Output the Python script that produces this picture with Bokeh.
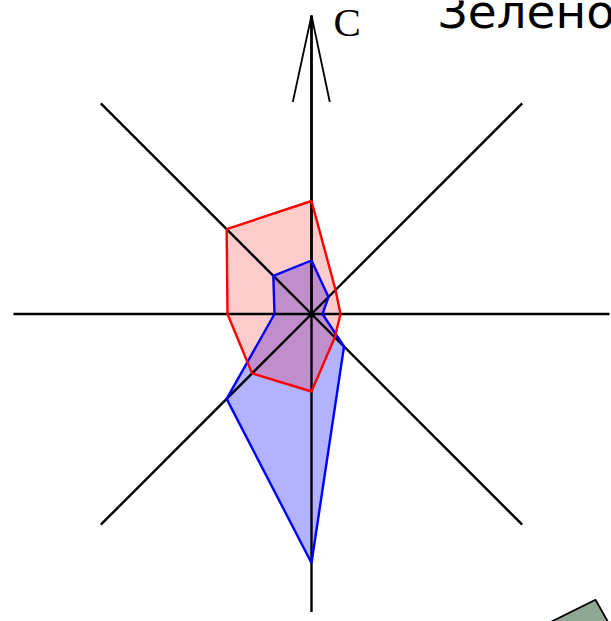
import numpy as np
from bokeh.plotting import figure
from bokeh.models import Range1d
from bokeh.core.properties import value
from bokeh.embed import file_html
from bokeh.resources import INLINE

# Wind directions (compass), angle in degrees from east, counter-clockwise
directions = ["С", "СВ", "В", "ЮВ", "Ю", "ЮЗ", "З", "СЗ"]
angles_deg = [90, 45, 0, -45, -90, -135, 180, 135]

# Wind rose values per direction
red_values = [11.3, 3.4, 2.9, 3.3, 7.75, 8.4, 8.4, 12.0]
blue_values = [5.35, 2.4, 1.1, 4.6, 24.9, 12.0, 3.7, 5.4]

axis_length = 29.8
north_label = "С"
title_text = "Зеленодольск"

ang = np.radians(angles_deg)

p = figure(width=611, height=621,
           x_range=Range1d(-31.1, 30.0), y_range=Range1d(-30.75, 31.35),
           output_backend="svg", toolbar_location=None, min_border=0,
           background_fill_color="white", border_fill_color="white")
p.axis.visible = False
p.grid.visible = False
p.outline_line_color = None

def poly(vals):
    v = np.array(vals)
    return list(v * np.cos(ang)), list(v * np.sin(ang))

bx, by = poly(blue_values)
rx, ry = poly(red_values)

# fills
p.patch(bx, by, fill_color="#0000ff", fill_alpha=0.3, line_color=None)
p.patch(rx, ry, fill_color="#ff0000", fill_alpha=0.2, line_color=None)

# axes
ex = list(axis_length * np.cos(ang))
ey = list(axis_length * np.sin(ang))
p.segment(x0=[0] * 8, y0=[0] * 8, x1=ex, y1=ey, line_color="black", line_width=2.4)
p.segment(x0=[0], y0=[0], x1=[0], y1=[29.85], line_color="black", line_width=2.4)

# north arrow head
p.segment(x0=[0, 0], y0=[29.85, 29.85], x1=[-1.87, 1.83], y1=[21.2, 21.2],
          line_color="black", line_width=1.8)

# outlines
p.patch(bx, by, fill_color=None, line_color="#0000ff", line_width=2.4)
p.patch(rx, ry, fill_color=None, line_color="#ff0000", line_width=2.4)

# decorative shape in corner
p.patch([28.4, 21.6, 30.3], [-28.58, -31.95, -31.95],
        fill_color="#8fa896", line_color="black", line_width=1.8)

p.text(x=[2.2], y=[29.2], text=[north_label], text_font=value("Liberation Serif"),
       text_font_size="41px", text_color="black", text_baseline="alphabetic", text_align="left")
p.text(x=[12.6], y=[30.3], text=[title_text], text_font=value("DejaVu Sans"),
       text_font_size="47px", text_color="black", text_baseline="alphabetic", text_align="left")

open("out.html", "w").write(file_html(p, INLINE))
